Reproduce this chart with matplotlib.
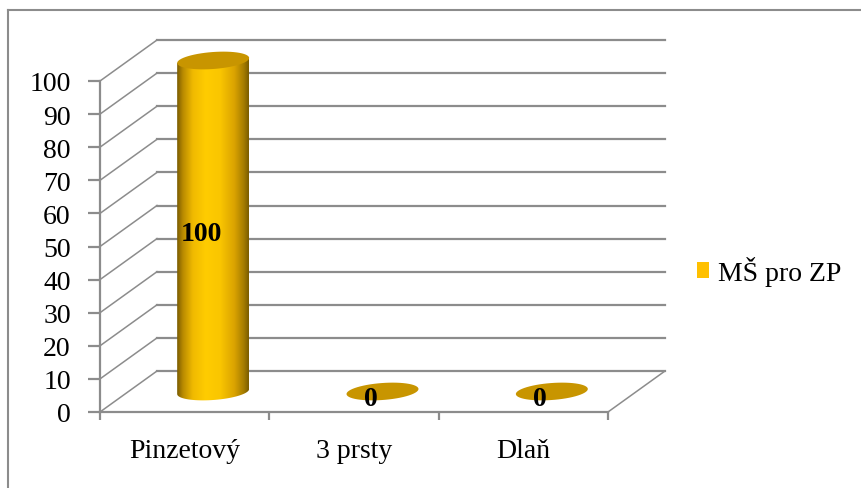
import numpy as np
import matplotlib
matplotlib.use("Agg")
import matplotlib.pyplot as plt
from matplotlib.colors import LinearSegmentedColormap
from matplotlib.patches import Polygon, PathPatch, Patch
from matplotlib.path import Path
from matplotlib.lines import Line2D
from matplotlib.transforms import offset_copy

plt.rcParams["font.family"] = ["Liberation Serif", "DejaVu Serif"]

# ---- data -------------------------------------------------------------
categories = ["Pinzetový", "3 prsty", "Dlaň"]
values = [100, 0, 0]
series_name = "MŠ pro ZP"
yticks = list(range(0, 101, 10))

GRID = "#8c8c8c"
FS = 20

fig = plt.figure(figsize=(8.62, 4.89), dpi=100)
W, H = 862, 489
# front plane of the 3-D box: x 100..608 px, y 82..413 px
ax = fig.add_axes([100 / W, 1 - 413 / H, 508 / W, 331 / H])
ax.set_xlim(-0.5, 2.5)
ax.set_ylim(0, 100)
ax.patch.set_visible(False)

# depth of the box in pixels, converted to data units
DX_PX, DY_PX = 57, 41
ux = 508 / 3.0           # px per category
uy = 331 / 100.0         # px per value unit
ddx, ddy = DX_PX / ux, DY_PX / uy

back = offset_copy(ax.transData, fig=fig, x=DX_PX, y=DY_PX, units="dots")

# back wall gridlines + diagonals on the left side wall
for v in yticks:
    ax.plot([-0.5, 2.5], [v, v], color=GRID, lw=1.6, transform=back, clip_on=False, zorder=1)
    ax.plot([-0.5, -0.5 + ddx], [v, v + ddy], color=GRID, lw=1.1, clip_on=False, zorder=1)
# floor right edge
ax.plot([2.5, 2.5 + ddx], [0, ddy], color=GRID, lw=1.1, clip_on=False, zorder=1)

# front axes
for s in ["top", "right"]:
    ax.spines[s].set_visible(False)
for s in ["left", "bottom"]:
    ax.spines[s].set_color(GRID)
    ax.spines[s].set_linewidth(1.6)

ax.set_yticks(yticks)
ax.set_yticklabels([str(v) for v in yticks], fontsize=FS)
ax.tick_params(axis="y", length=9, width=1.6, color=GRID, pad=12)

ax.set_xticks([-0.5, 0.5, 1.5, 2.5])
ax.set_xticklabels([])
ax.set_xticks(range(len(categories)), minor=True)
ax.set_xticklabels(categories, minor=True, fontsize=FS)
ax.tick_params(axis="x", which="major", length=6, width=1.6, color=GRID)
ax.tick_params(axis="x", which="minor", length=0, pad=19)


def ellipse_pts(xc, yc, a_px, b_px, tilt, t0=0, t1=2 * np.pi, n=60):
    # ellipse drawn in pixel units (with a small tilt), returned in data units
    t = np.linspace(t0, t1, n)
    xp = a_px * np.cos(t)
    yp = b_px * np.sin(t) + tilt * xp
    return np.column_stack([xc + xp / ux, yc + yp / uy])


# cylinders, standing in the middle of the depth
cmap = LinearSegmentedColormap.from_list("gold", [
    (0.0, "#7a5c00"), (0.08, "#b88a00"), (0.22, "#f0ba00"), (0.4, "#ffcc00"),
    (0.6, "#fac600"), (0.8, "#daa300"), (0.93, "#a57c00"), (1.0, "#7a5c00")])
a_px, b_px, tilt = 36, 8.5, 0.07
base = ddy / 2
for i, v in enumerate(values):
    xc = i + ddx / 2
    top = v + base
    if v > 0:
        arc = ellipse_pts(xc, base, a_px, b_px, tilt, np.pi, 2 * np.pi, 40)
        verts = np.vstack([ellipse_pts(xc, top, a_px, 0, tilt, np.pi, np.pi, 1),
                           arc,
                           ellipse_pts(xc, top, a_px, 0, tilt, 0, 0, 1)])
        verts = np.vstack([verts, verts[:1]])
        body = PathPatch(Path(verts), facecolor="none", edgecolor="none")
        ax.add_patch(body)
        grad = np.linspace(0, 1, 256).reshape(1, -1)
        im = ax.imshow(grad, cmap=cmap, aspect="auto", zorder=3,
                       extent=[xc - a_px / ux, xc + a_px / ux, base - 2 * b_px / uy, top + 1])
        im.set_clip_box(fig.bbox)
        im.set_clip_path(body)
    ax.add_patch(Polygon(ellipse_pts(xc, top, a_px, b_px, tilt), closed=True,
                         facecolor="#c89500", edgecolor="none", zorder=4, clip_on=False))
    ax.text(i + 0.1, v / 2 + 4, str(v), fontsize=20, fontweight="bold",
            ha="center", va="center", zorder=5)

ax.set_xlim(-0.5, 2.5)
ax.set_ylim(0, 100)

# legend
fig.legend(handles=[Patch(facecolor="#ffc000", edgecolor="none", label=series_name)],
           loc="center left", bbox_to_anchor=(697 / W, 1 - 272 / H), frameon=False,
           fontsize=FS, handlelength=0.45, handleheight=0.5, handletextpad=0.3,
           borderpad=0, borderaxespad=0)

# outer chart border (left + top visible)
fig.add_artist(Line2D([8 / W, 8 / W], [0, 1 - 11 / H], color=GRID, lw=1.5))
fig.add_artist(Line2D([8 / W, 1], [1 - 11 / H, 1 - 11 / H], color=GRID, lw=1.5))

fig.savefig("out.png", dpi=100)
